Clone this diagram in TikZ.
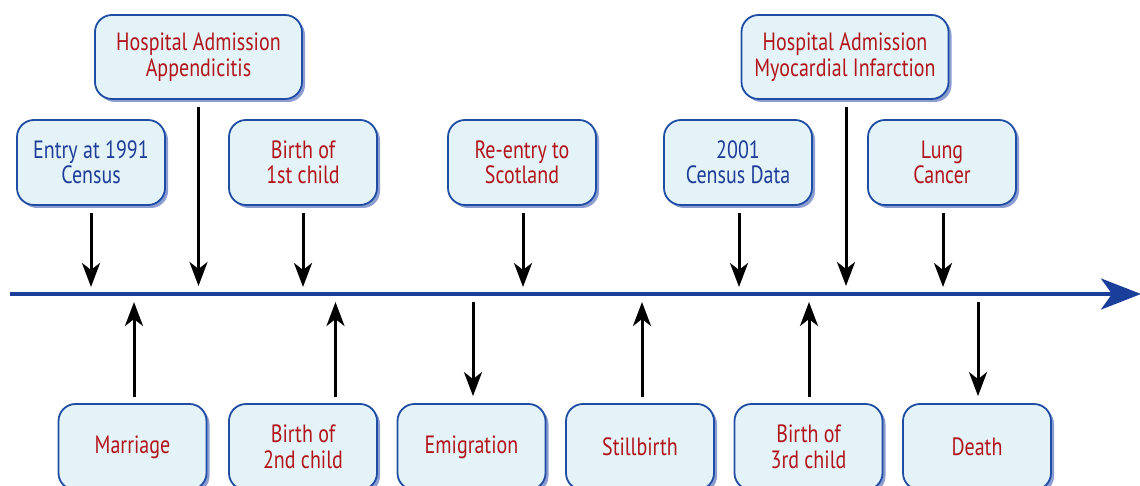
\documentclass[tikz,border=0pt]{standalone}
\usepackage{fontspec}
\setmainfont[FakeStretch=0.80]{PT Sans}
\usetikzlibrary{arrows.meta,shadows}
\definecolor{boxfill}{HTML}{E3F3F8}
\definecolor{boxline}{HTML}{1E4DA3}
\definecolor{shadowc}{HTML}{8C9DD2}
\definecolor{tline}{HTML}{1A3F9B}
\definecolor{txtred}{HTML}{B3141B}
\definecolor{txtblue}{HTML}{1F3C99}
\tikzset{
  evbox/.style={draw=boxline, line width=1.8pt, fill=boxfill, rounded corners=17pt,
    minimum width=148pt, minimum height=85pt, align=center, inner sep=2pt,
    font=\fontsize{25}{25.5}\selectfont, text=txtred,
    drop shadow={shadow xshift=3pt, shadow yshift=-3pt, fill=shadowc, opacity=1}},
  widebox/.style={evbox, minimum width=207pt, minimum height=84pt},
  bluetext/.style={text=txtblue},
  arr/.style={line width=3pt, -{Stealth[length=24pt,width=18pt,inset=7pt]}},
  timeline/.style={line width=4pt, draw=tline, -{Stealth[length=40pt,width=31pt,inset=11pt]}}
}
\begin{document}
\begin{tikzpicture}[x=1pt,y=-1pt]
\useasboundingbox (0,0) rectangle (1140,486);
% timeline
\coordinate (ts) at (10,294);
\coordinate (te) at (1141,294);
\draw[timeline] (ts) -- (te);
% top row 1
\node[widebox] (app) at (198.5,57) {Hospital Admission\\Appendicitis};
\node[widebox] (myo) at (845,57) {Hospital Admission\\Myocardial Infarction};
% top row 2
\node[evbox,bluetext] (entry) at (91,162.5) {Entry at 1991\\Census};
\node[evbox] (birth1) at (303,162.5) {Birth of\\1st child};
\node[evbox] (reentry) at (522,162.5) {Re-entry to\\Scotland};
\node[evbox,bluetext] (census) at (738,162.5) {2001\\Census Data};
\node[evbox] (lung) at (942,162.5) {Lung\\Cancer};
% bottom row
\node[evbox, minimum height=86pt] (marriage) at (132.5,447) {Marriage};
\node[evbox, minimum height=86pt] (birth2) at (303,447) {Birth of\\2nd child};
\node[evbox, minimum height=86pt] (emig) at (471.5,447) {Emigration};
\node[evbox, minimum height=86pt] (still) at (640,447) {Stillbirth};
\node[evbox, minimum height=86pt] (birth3) at (808.5,447) {Birth of\\3rd child};
\node[evbox, minimum height=86pt] (death) at (977,447) {Death};
% timeline coordinates
\coordinate (cEntry) at (91,287);
\coordinate (cApp) at (198.5,286);
\coordinate (cB1) at (303,287);
\coordinate (cRe) at (523,287);
\coordinate (cCen) at (739,287);
\coordinate (cMyo) at (846,286);
\coordinate (cLung) at (943,287);
\coordinate (cMar) at (134,302);
\coordinate (cB2) at (335.5,302);
\coordinate (cEm) at (473,302);
\coordinate (cSt) at (642,302);
\coordinate (cB3) at (809,302);
\coordinate (cDe) at (978,302);
% arrows from top boxes
\draw[arr, shorten <=7pt] (entry.south -| cEntry) -- (cEntry);
\draw[arr, shorten <=7pt] (app.south -| cApp) -- (cApp);
\draw[arr, shorten <=7pt] (birth1.south -| cB1) -- (cB1);
\draw[arr, shorten <=7pt] (reentry.south -| cRe) -- (cRe);
\draw[arr, shorten <=7pt] (census.south -| cCen) -- (cCen);
\draw[arr, shorten <=7pt] (myo.south -| cMyo) -- (cMyo);
\draw[arr, shorten <=7pt] (lung.south -| cLung) -- (cLung);
% arrows up from bottom boxes
\draw[arr, shorten <=6pt] (marriage.north -| cMar) -- (cMar);
\draw[arr, shorten <=6pt] (birth2.north -| cB2) -- (cB2);
\draw[arr, shorten <=6pt] (still.north -| cSt) -- (cSt);
\draw[arr, shorten <=6pt] (birth3.north -| cB3) -- (cB3);
% arrows down to bottom boxes
\draw[arr, shorten >=7pt] (cEm) -- (emig.north -| cEm);
\draw[arr, shorten >=7pt] (cDe) -- (death.north -| cDe);
\end{tikzpicture}
\end{document}
